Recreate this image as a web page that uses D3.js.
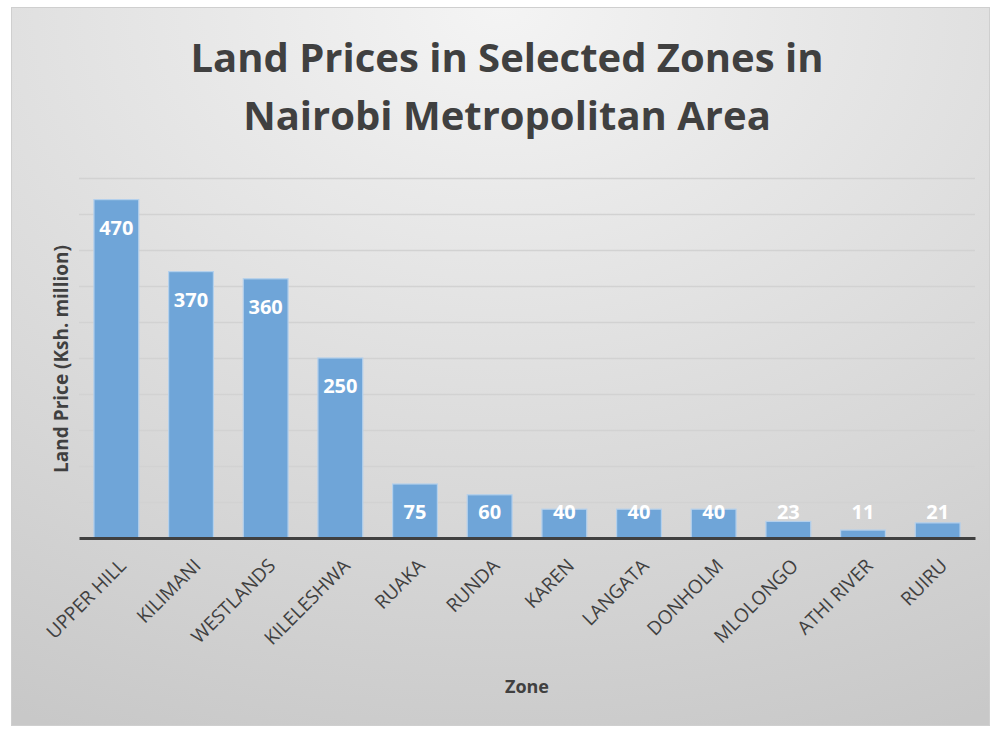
<!DOCTYPE html>
<html>
<head>
<meta charset="utf-8">
<script src="https://cdn.jsdelivr.net/npm/d3@7"></script>
<style>
  body { margin: 0; background: #ffffff; }
  svg { display: block; font-family: "Open Sans", sans-serif; }
</style>
</head>
<body>
<script>
// data
var zones = ["UPPER HILL", "KILIMANI", "WESTLANDS", "KILELESHWA", "RUAKA", "RUNDA",
             "KAREN", "LANGATA", "DONHOLM", "MLOLONGO", "ATHI RIVER", "RUIRU"];
var prices = [470, 370, 360, 250, 75, 60, 40, 40, 40, 23, 11, 21];
var gridTicks = [0, 50, 100, 150, 200, 250, 300, 350, 400, 450, 500];
var titleLines = ["Land Prices in Selected Zones in", "Nairobi Metropolitan Area"];

var width = 993, height = 729;
var plotLeft = 79, plotRight = 975, plotTop = 178, plotBottom = 538;

var svg = d3.select("body").append("svg")
    .attr("width", width)
    .attr("height", height);

var defs = svg.append("defs");
var bg = defs.append("radialGradient").attr("id", "bg")
    .attr("cx", "50%").attr("cy", "0%").attr("r", "110%")
    .attr("fx", "50%").attr("fy", "0%");
bg.append("stop").attr("offset", "0%").attr("stop-color", "#f4f4f4");
bg.append("stop").attr("offset", "100%").attr("stop-color", "#c8c8c8");

var gridGrad = defs.append("linearGradient").attr("id", "gridGrad")
    .attr("gradientUnits", "userSpaceOnUse")
    .attr("x1", 0).attr("x2", 0).attr("y1", plotTop).attr("y2", plotBottom);
gridGrad.append("stop").attr("offset", "0%").attr("stop-color", "#d2d2d2");
gridGrad.append("stop").attr("offset", "100%").attr("stop-color", "#8a8a8a");

// chart area
svg.append("rect")
    .attr("x", 11.5).attr("y", 7.5)
    .attr("width", 978).attr("height", 718)
    .attr("fill", "url(#bg)")
    .attr("stroke", "#cfcfcf");

// title
svg.append("g").selectAll("text").data(titleLines).enter()
    .append("text")
    .attr("x", 507)
    .attr("y", function(d, i){ return 72 + i * 58; })
    .attr("text-anchor", "middle")
    .attr("font-size", 40)
    .attr("font-weight", "bold")
    .attr("fill", "#404040")
    .text(function(d){ return d; });

// scales
var xScale = d3.scaleBand().domain(zones).range([plotLeft, plotRight])
    .paddingInner(0.4).paddingOuter(0.2);
var yScale = d3.scaleLinear().domain([0, 500]).range([plotBottom, plotTop]);

// gridlines
var yAxis = d3.axisLeft(yScale).tickValues(gridTicks)
    .tickSize(-(plotRight - plotLeft)).tickFormat("");
var gridG = svg.append("g")
    .attr("transform", "translate(" + plotLeft + ",0)")
    .call(yAxis);
gridG.select(".domain").remove();
gridG.selectAll(".tick line")
    .attr("stroke", "url(#gridGrad)")
    .attr("stroke-width", 1.3);

// bars
svg.append("g").selectAll("rect").data(prices).enter()
    .append("rect")
    .attr("x", function(d, i){ return xScale(zones[i]); })
    .attr("y", function(d){ return yScale(d); })
    .attr("width", xScale.bandwidth())
    .attr("height", function(d){ return yScale(0) - yScale(d); })
    .attr("fill", "#6fa5d8")
    .attr("stroke", "#b4d0ec")
    .attr("stroke-width", 1.2);

// baseline
var xAxis = d3.axisBottom(xScale).tickSize(0).tickFormat("");
var xG = svg.append("g")
    .attr("transform", "translate(0," + plotBottom + ")")
    .call(xAxis);
xG.select(".domain")
    .attr("stroke", "#404040")
    .attr("stroke-width", 3);

// data labels
svg.append("g").selectAll("text").data(prices).enter()
    .append("text")
    .attr("x", function(d, i){ return xScale(zones[i]) + xScale.bandwidth() / 2; })
    .attr("y", function(d){ return Math.min(yScale(d) + 35, plotBottom - 19); })
    .attr("text-anchor", "middle")
    .attr("font-size", 20)
    .attr("font-weight", "bold")
    .attr("fill", "#ffffff")
    .text(function(d){ return d; });

// zone labels
svg.append("g").selectAll("text").data(zones).enter()
    .append("text")
    .attr("transform", function(d){
        var cx = xScale(d) + xScale.bandwidth() / 2;
        return "translate(" + (cx + 11) + "," + (plotBottom + 29) + ") rotate(-45)";
    })
    .attr("text-anchor", "end")
    .attr("font-size", 19)
    .attr("fill", "#404040")
    .text(function(d){ return d; });

// axis titles
svg.append("text")
    .attr("transform", "translate(68,359) rotate(-90)")
    .attr("text-anchor", "middle")
    .attr("font-size", 19)
    .attr("font-weight", "bold")
    .attr("fill", "#404040")
    .text("Land Price (Ksh. million)");

svg.append("text")
    .attr("x", 527)
    .attr("y", 693)
    .attr("text-anchor", "middle")
    .attr("font-size", 18)
    .attr("font-weight", "bold")
    .attr("fill", "#404040")
    .text("Zone");
</script>
</body>
</html>
